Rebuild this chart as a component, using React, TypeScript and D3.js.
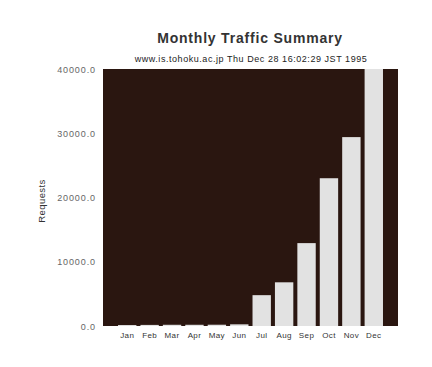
import React from "react";
import * as d3 from "d3";

const months = ["Jan", "Feb", "Mar", "Apr", "May", "Jun", "Jul", "Aug", "Sep", "Oct", "Nov", "Dec"];
const requests = [150, 170, 190, 190, 200, 260, 4800, 6800, 12900, 23000, 29400, 42000];
const yTicks = [0, 10000, 20000, 30000, 40000];

const W = 432, H = 367;
const plot = { left: 103, right: 398, top: 69, bottom: 326 };

export default function App() {
  const x = d3.scaleBand<string>().domain(months).range([116, 385]).paddingInner(0.18).paddingOuter(0.09);
  const y = d3.scaleLinear().domain([0, 40000]).range([plot.bottom, plot.top]);
  const font = "'Liberation Sans', Arial, sans-serif";
  return (
    <svg width={W} height={H} style={{ position: "absolute", left: 0, top: 0, background: "#fff" }}>
      <defs>
        <clipPath id="pc">
          <rect x={plot.left} y={plot.top} width={plot.right - plot.left} height={plot.bottom - plot.top} />
        </clipPath>
      </defs>
      <text x={250} y={43} textAnchor="middle" fontFamily={font} fontSize={14} fontWeight="bold" fill="#333" letterSpacing={0.8}>
        Monthly Traffic Summary
      </text>
      <text x={251} y={62} textAnchor="middle" fontFamily={font} fontSize={9} fill="#222" letterSpacing={0.55}>
        www.is.tohoku.ac.jp Thu Dec 28 16:02:29 JST 1995
      </text>
      <rect x={plot.left} y={plot.top} width={plot.right - plot.left} height={plot.bottom - plot.top} fill="#2a1610" />
      <g clipPath="url(#pc)">
        {months.map((m, i) => (
          <rect key={m} x={x(m)} width={x.bandwidth()} y={y(requests[i])} height={plot.bottom - y(requests[i])} fill="#e2e2e2" />
        ))}
      </g>
      {yTicks.map((t) => (
        <text key={t} x={96} y={y(t) + 3.5} textAnchor="end" fontFamily={font} fontSize={9} fill="#666" letterSpacing={0.9}>
          {d3.format(".1f")(t)}
        </text>
      ))}
      {months.map((m) => (
        <text key={m} x={(x(m) as number) + x.bandwidth() / 2} y={338} textAnchor="middle" fontFamily={font} fontSize={8} fill="#333" letterSpacing={0.4}>
          {m}
        </text>
      ))}
      <text transform={`translate(45,201) rotate(-90)`} textAnchor="middle" fontFamily={font} fontSize={9.5} fill="#333" letterSpacing={0.4}>
        Requests
      </text>
    </svg>
  );
}
